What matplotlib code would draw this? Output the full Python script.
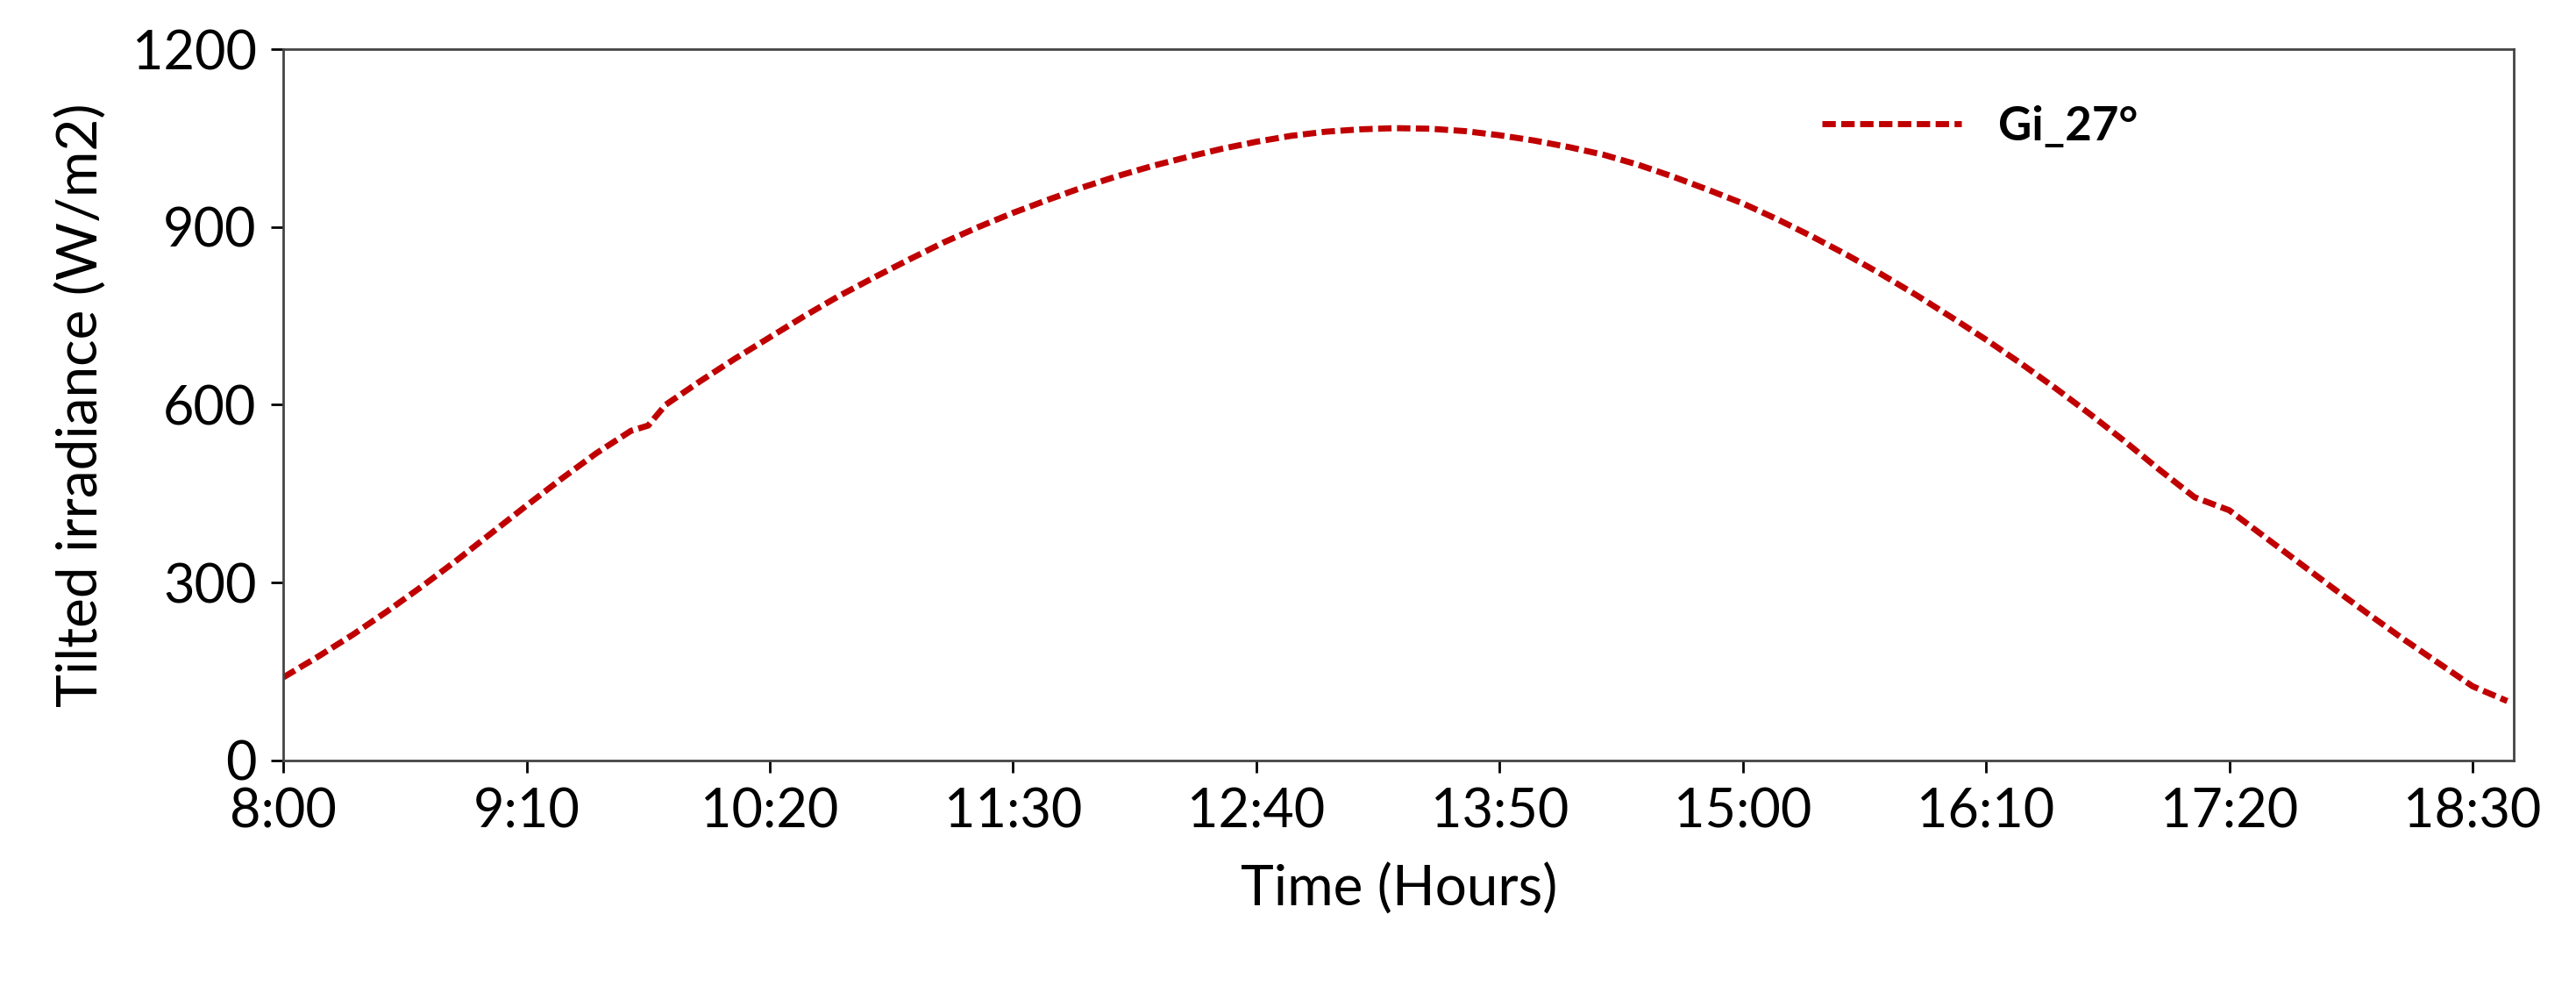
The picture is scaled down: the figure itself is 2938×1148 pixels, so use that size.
import matplotlib.pyplot as plt

minutes = [0, 10, 20, 30, 40, 50, 60, 70, 80, 90, 100, 105, 110, 120, 130, 140, 150,
           160, 170, 180, 190, 200, 210, 220, 230, 240, 250, 260, 270, 280, 290, 300,
           310, 320, 330, 340, 350, 360, 370, 380, 390, 400, 410, 420, 430, 440, 450,
           460, 470, 480, 490, 500, 510, 520, 530, 540, 550, 560, 570, 580, 590, 600,
           610, 620, 630, 640]
gi_27 = [140, 175, 212, 252, 294, 338, 384, 430, 475, 518, 556, 565, 600, 640, 678, 714, 750,
         784, 815, 845, 874, 900, 924, 946, 967, 986, 1003, 1018, 1032, 1044, 1054, 1061,
         1065, 1067, 1066, 1062, 1055, 1046, 1035, 1022, 1005, 985, 963, 940, 913, 884, 853,
         820, 785, 748, 710, 670, 628, 584, 538, 490, 444, 422 - 44 + 44, 378, 334, 290, 247,
         205, 165, 125, 100]
tick_minutes = [0, 70, 140, 210, 280, 350, 420, 490, 560, 630]
tick_labels = ['8:00', '9:10', '10:20', '11:30', '12:40', '13:50', '15:00', '16:10', '17:20', '18:30']

plt.rcParams['font.family'] = ['Lato', 'DejaVu Sans']
fig = plt.figure(figsize=(29.38, 11.48), dpi=100)
ax = fig.add_axes([0.110, 0.245, 0.866, 0.706])
ax.plot(minutes, gi_27, color='#c00000', linestyle='--', linewidth=5, dashes=(2.2, 0.9), label='Gi_27°')
ax.set_xlim(0, 642)
ax.set_ylim(0, 1200)
ax.set_yticks([0, 300, 600, 900, 1200])
ax.set_xticks(tick_minutes)
ax.set_xticklabels(tick_labels)
ax.tick_params(labelsize=44, length=10, width=2, pad=12, colors='black')
for s in ax.spines.values():
    s.set_color('#444444')
    s.set_linewidth(2)
ax.set_xlabel('Time (Hours)', fontsize=46, labelpad=22)
ax.set_ylabel('Tilted irradiance (W/m2)', fontsize=46, labelpad=20)
leg = ax.legend(loc='upper right', bbox_to_anchor=(0.85, 0.98), frameon=False,
                prop={'size': 38, 'weight': 'bold'}, handlelength=3)
fig.savefig('out.png')
